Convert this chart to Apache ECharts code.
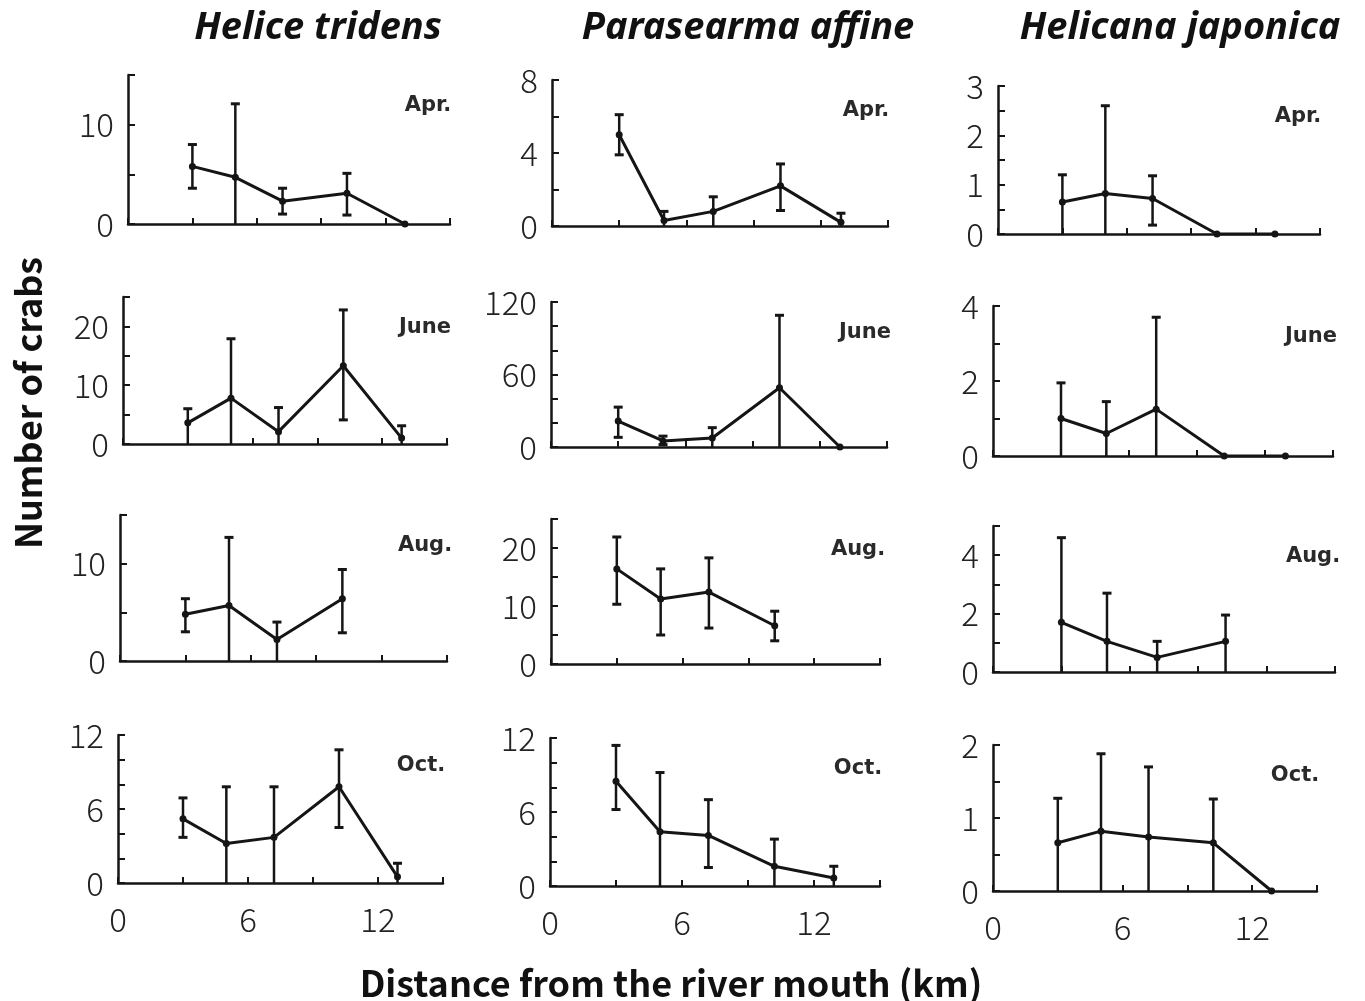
<!DOCTYPE html>
<html>
<head>
<meta charset="utf-8">
<script src="https://cdn.jsdelivr.net/npm/echarts@6/dist/echarts.min.js"></script>
<style>
  html, body { margin: 0; padding: 0; background: #fff; }
  #chart { width: 1365px; height: 1001px; }
</style>
</head>
<body>
<div id="chart"></div>
<script>
// ---------- data ----------
const stations = [3.0, 5.0, 7.2, 10.2, 12.9];   // km from river mouth
const months = ['Apr.', 'June', 'Aug.', 'Oct.'];
const species = ['Helice tridens', 'Parasearma affine', 'Helicana japonica'];
const xTickLabels = [0, 6, 12];

// Helice tridens
const heliceAprMean = [5.8, 4.7, 2.3, 3.1, 0];
const heliceAprHigh = [8.0, 12.1, 3.6, 5.1, null];
const heliceAprLow  = [3.6, 0, 1.0, 0.9, null];
const heliceJunMean = [3.6, 7.8, 2.1, 13.3, 1.0];
const heliceJunHigh = [6.0, 17.9, 6.2, 22.8, 3.1];
const heliceJunLow  = [0, 0, 0, 4.1, 0];
const heliceAugMean = [4.8, 5.7, 2.2, 6.4, null];
const heliceAugHigh = [6.4, 12.7, 4.0, 9.4, null];
const heliceAugLow  = [3.0, 0, 0, 2.9, null];
const heliceOctMean = [5.2, 3.2, 3.7, 7.8, 0.5];
const heliceOctHigh = [6.9, 7.8, 7.8, 10.8, 1.6];
const heliceOctLow  = [3.7, 0, 0, 4.5, 0];

// Parasearma affine
const paraAprMean = [5.0, 0.3, 0.8, 2.2, 0.2];
const paraAprHigh = [6.1, 0.8, 1.6, 3.4, 0.7];
const paraAprLow  = [3.9, 0, 0, 0.85, 0];
const paraJunMean = [21.5, 5, 7.4, 49, 0];
const paraJunHigh = [33, 9, 16, 109, null];
const paraJunLow  = [8, 2, 0, 0, null];
const paraAugMean = [16.4, 11.2, 12.4, 6.6, null];
const paraAugHigh = [21.9, 16.4, 18.3, 9.1, null];
const paraAugLow  = [10.3, 5.0, 6.2, 4.0, null];
const paraOctMean = [8.5, 4.4, 4.1, 1.6, 0.65];
const paraOctHigh = [11.4, 9.2, 7.0, 3.8, 1.6];
const paraOctLow  = [6.2, 0, 1.5, 0, 0];

// Helicana japonica
const helicanaAprMean = [0.65, 0.82, 0.72, 0, 0];
const helicanaAprHigh = [1.2, 2.6, 1.18, null, null];
const helicanaAprLow  = [0, 0, 0.18, null, null];
const helicanaJunMean = [1.0, 0.6, 1.25, 0, 0];
const helicanaJunHigh = [1.95, 1.45, 3.7, null, null];
const helicanaJunLow  = [0, 0, 0, null, null];
const helicanaAugMean = [1.7, 1.05, 0.5, 1.05, null];
const helicanaAugHigh = [4.6, 2.7, 1.05, 1.95, null];
const helicanaAugLow  = [0, 0, 0, 0, null];
const helicanaOctMean = [0.66, 0.82, 0.74, 0.66, 0];
const helicanaOctHigh = [1.27, 1.88, 1.7, 1.26, null];
const helicanaOctLow  = [0, 0, 0, 0, null];

// y-axis scales per panel [row][col]: max, tick interval, label step
const yMax      = [[15, 8, 3], [25, 120, 4], [15, 25, 5], [12, 12, 2]];
const yInterval = [[5, 2, 0.5], [5, 20, 1], [5, 5, 1], [2, 2, 0.5]];
const yLabelStep= [[10, 4, 1], [10, 60, 2], [10, 10, 2], [6, 6, 1]];

const panelData = [
  [[heliceAprMean, heliceAprHigh, heliceAprLow], [paraAprMean, paraAprHigh, paraAprLow], [helicanaAprMean, helicanaAprHigh, helicanaAprLow]],
  [[heliceJunMean, heliceJunHigh, heliceJunLow], [paraJunMean, paraJunHigh, paraJunLow], [helicanaJunMean, helicanaJunHigh, helicanaJunLow]],
  [[heliceAugMean, heliceAugHigh, heliceAugLow], [paraAugMean, paraAugHigh, paraAugLow], [helicanaAugMean, helicanaAugHigh, helicanaAugLow]],
  [[heliceOctMean, heliceOctHigh, heliceOctLow], [paraOctMean, paraOctHigh, paraOctLow], [helicanaOctMean, helicanaOctHigh, helicanaOctLow]]
];

// ---------- layout (pixels) ----------
const panelLeft  = [[128, 552, 998], [123, 551, 993], [120, 551, 993], [118, 550, 993]];
const panelWidth = [[322, 336, 322], [324, 336, 340], [327, 329, 342], [325, 330, 324]];
const panelTop   = [[75, 80, 86], [297, 302, 306], [515, 519, 526], [735, 738, 745]];
const panelHeight= [[149, 146, 148], [147, 145, 150], [146, 145, 146], [148, 148, 146]];

const INK = '#151515';
const numFont = '"Noto Sans CJK JP", "Noto Sans", sans-serif';

const grids = [], xAxes = [], yAxes = [], series = [], graphics = [];
let idx = 0;
for (let r = 0; r < 4; r++) {
  for (let c = 0; c < 3; c++) {
    const left = panelLeft[r][c], width = panelWidth[r][c];
    const top = panelTop[r][c], height = panelHeight[r][c];
    grids.push({ left: left, top: top, width: width, height: height,
                 containLabel: false, outerBoundsMode: 'none' });
    xAxes.push({
      gridIndex: idx, type: 'value', min: 0, max: 15, interval: 3,
      axisLine: { show: true, lineStyle: { color: INK, width: 2.5 } },
      axisTick: { show: true, inside: true, length: 6, lineStyle: { color: INK, width: 2 } },
      splitLine: { show: false },
      axisLabel: {
        show: r === 3, margin: 20, fontSize: 33, fontWeight: 300, color: '#222', fontFamily: numFont,
        formatter: v => xTickLabels.indexOf(v) >= 0 ? String(v) : ''
      }
    });
    const step = yLabelStep[r][c];
    yAxes.push({
      gridIndex: idx, type: 'value', min: 0, max: yMax[r][c], interval: yInterval[r][c],
      axisLine: { show: true, lineStyle: { color: INK, width: 2.5 } },
      axisTick: { show: true, inside: true, length: 7, lineStyle: { color: INK, width: 2 } },
      splitLine: { show: false },
      axisLabel: {
        margin: 14, fontSize: 33, fontWeight: 300, color: '#222', fontFamily: numFont,
        formatter: v => {
          const q = v / step;
          return Math.abs(q - Math.round(q)) < 1e-6 ? String(v) : '';
        }
      }
    });
    const [mean, high, low] = panelData[r][c];
    const lineData = [], errData = [];
    for (let i = 0; i < stations.length; i++) {
      if (mean[i] === null) continue;
      lineData.push([stations[i], mean[i]]);
      if (high[i] !== null) errData.push([stations[i], low[i], high[i]]);
    }
    series.push({
      type: 'line', xAxisIndex: idx, yAxisIndex: idx, data: lineData,
      symbol: 'circle', symbolSize: 7, animation: false,
      lineStyle: { color: INK, width: 3 }, itemStyle: { color: INK },
      z: 3
    });
    series.push({
      type: 'custom', xAxisIndex: idx, yAxisIndex: idx, data: errData, animation: false,
      encode: { x: 0, y: [1, 2] }, z: 4,
      renderItem: (params, api) => {
        const x = api.value(0), lo = api.value(1), hi = api.value(2);
        const pHi = api.coord([x, hi]), pLo = api.coord([x, lo]);
        const st = { stroke: INK, lineWidth: 2.5 };
        const ch = [
          { type: 'line', shape: { x1: pLo[0], y1: pLo[1], x2: pHi[0], y2: pHi[1] }, style: st },
          { type: 'line', shape: { x1: pHi[0] - 4.5, y1: pHi[1], x2: pHi[0] + 4.5, y2: pHi[1] }, style: { stroke: INK, lineWidth: 3 } }
        ];
        if (lo > 0) ch.push({ type: 'line', shape: { x1: pLo[0] - 4.5, y1: pLo[1], x2: pLo[0] + 4.5, y2: pLo[1] }, style: { stroke: INK, lineWidth: 3 } });
        return { type: 'group', children: ch };
      }
    });
    graphics.push({
      type: 'text', x: left + width - 22, y: top + 31,
      style: { text: months[r], fontSize: 21, fontWeight: 'bold', fill: '#2a2a2a',
               fontFamily: '"DejaVu Sans", sans-serif', align: 'center', verticalAlign: 'middle' }
    });
    idx++;
  }
}

const titleCenters = [318, 748, 1180];
species.forEach((s, c) => {
  graphics.push({
    type: 'text', x: titleCenters[c], y: 28,
    style: { text: s, fontSize: 38, fontWeight: 'bold', fontStyle: 'italic', fill: '#111',
             fontFamily: '"Noto Sans", "Liberation Sans", sans-serif', align: 'center', verticalAlign: 'middle' }
  });
});
graphics.push({
  type: 'text', x: 28, y: 403, rotation: Math.PI / 2,
  style: { text: 'Number of crabs', fontSize: 36, fontWeight: 'bold', fill: '#111',
           fontFamily: '"Noto Sans CJK JP", "Noto Sans", sans-serif', align: 'center', verticalAlign: 'middle' }
});
graphics.push({
  type: 'text', x: 671, y: 983,
  style: { text: 'Distance from the river mouth (km)', fontSize: 36, fontWeight: 'bold', fill: '#111',
           fontFamily: '"Noto Sans CJK JP", "Noto Sans", sans-serif', align: 'center', verticalAlign: 'middle' }
});

const chart = echarts.init(document.getElementById('chart'), null, { renderer: 'canvas' });
chart.setOption({
  backgroundColor: '#ffffff',
  animation: false,
  grid: grids, xAxis: xAxes, yAxis: yAxes, series: series,
  graphic: graphics
});
</script>
</body>
</html>
